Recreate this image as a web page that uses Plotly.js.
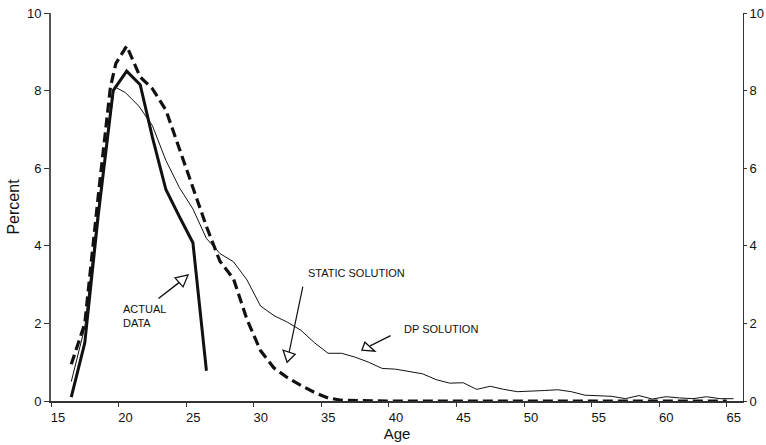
<!DOCTYPE html>
<html>
<head>
<meta charset="utf-8">
<script src="https://cdn.plot.ly/plotly-3.0.1.min.js"></script>
<style>html,body{margin:0;padding:0;background:#fff;}#chart{width:766px;height:445px;}</style>
</head>
<body>
<div id="chart"></div>
<script>
// ---- data ----
const actualAge = [16.5, 17.5, 18.5, 19.6, 20.6, 21.6, 22.5, 23.5, 24.5, 25.5, 26.5];
const actualPct = [0.1, 1.5, 4.8, 8.0, 8.5, 8.15, 6.8, 5.45, 4.75, 4.08, 0.78];

const staticAge = [16.5, 17.5, 18.5, 19.4, 19.8, 20.6, 21.6, 22.5, 23.5, 24.5, 25.5, 26.5, 27.5, 28.5, 29.5, 30.5, 31.5, 32.5, 33.5, 34.5, 35.5, 36.5, 40, 45, 50, 55, 60, 65];
const staticPct = [0.95, 2.0, 5.3, 8.1, 8.7, 9.15, 8.35, 8.05, 7.5, 6.5, 5.5, 4.5, 3.6, 3.15, 2.1, 1.3, 0.85, 0.6, 0.4, 0.22, 0.08, 0.02, 0, 0, 0, 0, 0, 0];

const dpAge = [16.5, 17.5, 18.5, 19.7, 20.5, 21.5, 22.5, 23.5, 24.5, 25.5, 26.5, 27.5, 28.5, 29.5, 30.5, 31.5, 32.5, 33.5, 34.5, 35.5, 36.5, 37.5, 38.5, 39.5, 40.5, 41.5, 42.5, 43.5, 44.5, 45.5, 46.5, 47.5, 48.5, 49.5, 50.5, 51.5, 52.5, 53.5, 54.5, 55.5, 56.5, 57.5, 58.5, 59.5, 60.5, 61.5, 62.5, 63.5, 64.5, 65.5];
const dpPct = [0.5, 1.9, 5.0, 8.1, 7.95, 7.6, 7.1, 6.2, 5.5, 4.95, 4.19, 3.8, 3.59, 3.12, 2.45, 2.2, 2.03, 1.82, 1.5, 1.23, 1.23, 1.13, 1.0, 0.84, 0.82, 0.76, 0.7, 0.55, 0.46, 0.47, 0.3, 0.38, 0.3, 0.24, 0.25, 0.27, 0.29, 0.24, 0.15, 0.14, 0.12, 0.06, 0.14, 0.05, 0.11, 0.08, 0.06, 0.11, 0.06, 0.06];

const xTicks = [15, 20, 25, 30, 35, 40, 45, 50, 55, 60, 65];
const yTicks = [0, 2, 4, 6, 8, 10];

// annotation labels
const labelActual = "ACTUAL<br>DATA";
const labelStatic = "STATIC SOLUTION";
const labelDP = "DP SOLUTION";

const FONT = "Liberation Sans, Arial, Helvetica, sans-serif";

const traces = [
  {x: dpAge, y: dpPct, mode: "lines", line: {color: "#111", width: 1}, hoverinfo: "skip"},
  {x: staticAge, y: staticPct, mode: "lines", line: {color: "#111", width: 3.2, dash: "10px,5px"}, hoverinfo: "skip"},
  {x: actualAge, y: actualPct, mode: "lines", line: {color: "#111", width: 3}, hoverinfo: "skip"},
  {x: [15], y: [0], yaxis: "y2", mode: "markers", marker: {opacity: 0}, hoverinfo: "skip"}
];

// hollow arrow heads (pixel paths anchored at the tip)
function head(xa, ya, path) {
  return {type: "path", xref: "x", yref: "y", xsizemode: "pixel", ysizemode: "pixel",
          xanchor: xa, yanchor: ya, path: path, line: {color: "#111", width: 1.3}, fillcolor: "rgba(0,0,0,0)"};
}

const layout = {
  width: 766, height: 445,
  margin: {l: 51, r: 23, t: 13, b: 44},
  paper_bgcolor: "#fff", plot_bgcolor: "#fff",
  showlegend: false,
  font: {family: FONT, color: "#111", size: 13},
  xaxis: {
    range: [15, 66.2], tickvals: xTicks, ticktext: xTicks.map(String),
    showgrid: false, zeroline: false, showline: true, linecolor: "#333", linewidth: 1.5,
    ticks: "outside", ticklen: 4, tickcolor: "#333", ticklabelshift: 7,
    tickfont: {size: 13, family: FONT},
    title: {text: "Age", font: {size: 15, family: FONT}, standoff: 4}
  },
  yaxis: {
    range: [0, 10], tickvals: yTicks, showgrid: false, zeroline: false,
    showline: true, linecolor: "#555", linewidth: 2,
    ticks: "outside", ticklen: 5, tickcolor: "#333",
    tickfont: {size: 13, family: FONT},
    title: {text: "Percent", font: {size: 16, family: FONT}, standoff: 3}
  },
  yaxis2: {
    range: [0, 10], tickvals: yTicks, overlaying: "y", side: "right",
    showgrid: false, zeroline: false, showline: true, linecolor: "#333", linewidth: 1,
    ticks: "outside", ticklen: 3, tickcolor: "#333",
    tickfont: {size: 13, family: FONT}
  },
  annotations: [
    {x: 20.2, y: 2.2, xref: "x", yref: "y", text: labelActual, showarrow: false, align: "left",
     xanchor: "left", yanchor: "middle", font: {size: 11, family: FONT}},
    {x: 33.9, y: 3.3, xref: "x", yref: "y", text: labelStatic, showarrow: false,
     xanchor: "left", yanchor: "middle", font: {size: 11, family: FONT}},
    {x: 41.0, y: 1.85, xref: "x", yref: "y", text: labelDP, showarrow: false,
     xanchor: "left", yanchor: "middle", font: {size: 11, family: FONT}},
    // shafts
    {x: 24.47, y: 3.05, ax: -22, ay: 17, xref: "x", yref: "y",
     showarrow: true, arrowhead: 0, arrowwidth: 1.4, arrowcolor: "#111", text: ""},
    {x: 32.62, y: 1.26, ax: 14, ay: -67, xref: "x", yref: "y", showarrow: true, arrowhead: 0,
     arrowwidth: 1.2, arrowcolor: "#111", text: ""},
    {x: 38.61, y: 1.42, ax: 22, ay: -11, xref: "x", yref: "y", showarrow: true, arrowhead: 0,
     arrowwidth: 1.2, arrowcolor: "#111", text: ""}
  ],
  shapes: [
    head(25.14, 3.25, "M 0 0 L -13 -3 L -5 -12 Z"),
    head(32.47, 1.0, "M 0 0 L -4 12 L 8 8 Z"),
    head(38.0, 1.31, "M 0 0 L 3 8 L 13 -1 Z")
  ]
};

Plotly.newPlot("chart", traces, layout, {staticPlot: true, displayModeBar: false});
</script>
</body>
</html>
